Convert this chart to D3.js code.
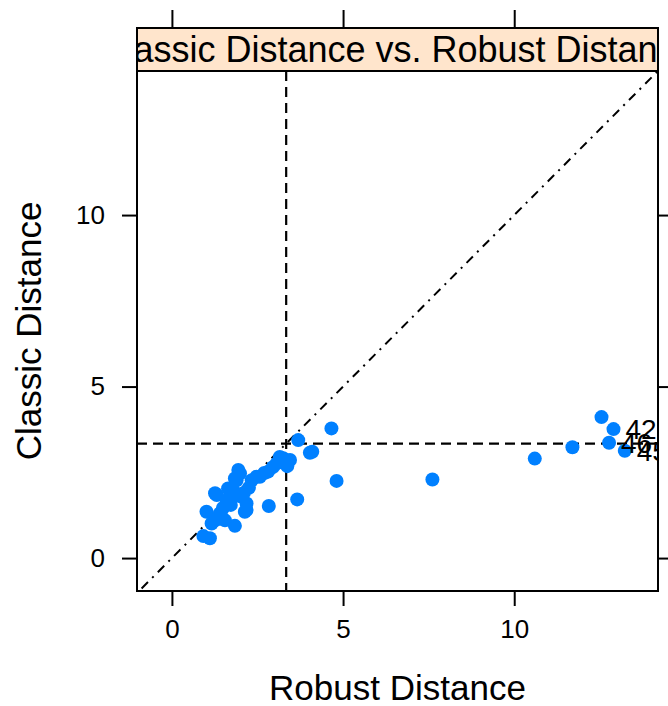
<!DOCTYPE html>
<html>
<head>
<meta charset="utf-8">
<script src="https://d3js.org/d3.v7.min.js"></script>
<style>
  body { margin: 0; background: #fff; }
  text { font-family: "Liberation Sans", Arial, sans-serif; fill: #000; }
</style>
</head>
<body>
<div class="chart"></div>
<script>
// datos
var robust = [0.92, 1.11, 1.16, 1.01, 1.26, 1.45, 1.49, 1.31, 1.60, 1.64,
  1.79, 1.84, 1.94, 1.99, 1.89, 1.84, 2.18, 2.13, 2.18, 1.72,
  2.00, 2.10, 2.33, 2.47, 2.57, 2.81, 2.70, 3.06, 3.15, 3.25,
  3.37, 3.45, 2.83, 3.66, 3.69, 4.03, 4.10, 4.66, 4.81, 7.61,
  10.60, 11.70, 12.55, 12.90, 12.77, 13.23, 1.40, 1.70, 2.25, 2.95,
  1.55, 1.26];
var classic = [0.64, 0.58, 1.01, 1.35, 1.10, 1.20, 1.46, 1.84, 1.69, 2.03,
  1.98, 2.32, 2.57, 2.47, 2.27, 0.94, 1.59, 1.35, 1.40, 1.55,
  1.80, 1.90, 2.27, 2.37, 2.37, 2.52, 2.48, 2.76, 2.95, 2.91,
  2.68, 2.86, 1.52, 1.71, 3.44, 3.07, 3.10, 3.78, 2.25, 2.29,
  2.90, 3.23, 4.11, 3.76, 3.36, 3.13, 1.30, 1.75, 2.05, 2.65,
  1.10, 1.89];
var labelIdx = [43, 44, 45];
var labelText = ["42", "46", "45"];
var ticks = [0, 5, 10];
var cutoff = 3.338;

var w = 668, h = 706;
var pLeft = 137, pRight = 658, pTop = 71, pBottom = 591, stripTop = 28;

var svg = d3.select(".chart")
  .append("svg")
  .attr("width", w)
  .attr("height", h)
  .style("background", "#FFFFFF");

var x = d3.scaleLinear().domain([-1.02, 14.2]).range([pLeft, pRight]);
var y = d3.scaleLinear().domain([-0.96, 14.2]).range([pBottom, pTop]);

svg.append("clipPath").attr("id", "panel")
  .append("rect")
  .attr("x", pLeft).attr("y", pTop)
  .attr("width", pRight - pLeft).attr("height", pBottom - pTop);

svg.append("clipPath").attr("id", "strip")
  .append("rect")
  .attr("x", pLeft).attr("y", stripTop)
  .attr("width", pRight - pLeft).attr("height", pTop - stripTop);

// ejes
function styleAxis(g) {
  g.select(".domain").remove();
  g.selectAll(".tick line").attr("stroke", "#000").attr("stroke-width", 2);
  g.selectAll(".tick text").style("font-size", "26px");
}

svg.append("g")
  .attr("transform", "translate(" + pLeft + ",0)")
  .call(d3.axisLeft(y).tickValues(ticks).tickSize(15).tickPadding(17))
  .call(styleAxis);

svg.append("g")
  .attr("transform", "translate(0," + pBottom + ")")
  .call(d3.axisBottom(x).tickValues(ticks).tickSize(15).tickPadding(14))
  .call(styleAxis);

svg.append("g")
  .attr("transform", "translate(0," + stripTop + ")")
  .call(d3.axisTop(x).tickValues(ticks).tickSize(18).tickFormat(""))
  .call(styleAxis);

svg.append("g")
  .attr("transform", "translate(" + pRight + ",0)")
  .call(d3.axisRight(y).tickValues(ticks).tickSize(15).tickFormat(""))
  .call(styleAxis);

// franja del titulo
svg.append("rect")
  .attr("x", pLeft).attr("y", stripTop)
  .attr("width", pRight - pLeft).attr("height", pTop - stripTop)
  .attr("fill", "#FFE5CC")
  .attr("stroke", "#000").attr("stroke-width", 2);

svg.append("text")
  .attr("clip-path", "url(#strip)")
  .attr("x", (pLeft + pRight) / 2)
  .attr("y", 62)
  .attr("text-anchor", "middle")
  .style("font-size", "36px")
  .text("Classic Distance vs. Robust Distance");

var p = svg.append("g").attr("clip-path", "url(#panel)");

// linea diagonal y lineas de corte
p.append("line")
  .attr("x1", x(-2)).attr("y1", y(-2))
  .attr("x2", x(15)).attr("y2", y(15))
  .attr("stroke", "#000").attr("stroke-width", 2)
  .attr("stroke-dasharray", "2,6,9,6");

p.append("line")
  .attr("x1", x(cutoff)).attr("x2", x(cutoff))
  .attr("y1", pTop).attr("y2", pBottom)
  .attr("stroke", "#000").attr("stroke-width", 2.2)
  .attr("stroke-dasharray", "10,6");

p.append("line")
  .attr("x1", pLeft).attr("x2", pRight)
  .attr("y1", y(cutoff)).attr("y2", y(cutoff))
  .attr("stroke", "#000").attr("stroke-width", 2.2)
  .attr("stroke-dasharray", "10,6");

p.selectAll("circle")
  .data(robust)
  .enter()
  .append("circle")
  .attr("cx", function(d) { return x(d); })
  .attr("cy", function(d, i) { return y(classic[i]); })
  .attr("r", 7)
  .attr("fill", "#0080FF");

p.selectAll("text.lab")
  .data(labelIdx)
  .enter()
  .append("text")
  .attr("class", "lab")
  .attr("x", function(d) { return x(robust[d]) + 12; })
  .attr("y", function(d) { return y(classic[d]) + 10; })
  .style("font-size", "28px")
  .text(function(d, i) { return labelText[i]; });

svg.append("rect")
  .attr("x", pLeft).attr("y", pTop)
  .attr("width", pRight - pLeft).attr("height", pBottom - pTop)
  .attr("fill", "none")
  .attr("stroke", "#000").attr("stroke-width", 2);

// titulos de ejes
svg.append("text")
  .attr("x", (pLeft + pRight) / 2)
  .attr("y", 700)
  .attr("text-anchor", "middle")
  .style("font-size", "35px")
  .text("Robust Distance");

svg.append("text")
  .attr("transform", "translate(41," + ((pTop + pBottom) / 2) + ") rotate(-90)")
  .attr("text-anchor", "middle")
  .style("font-size", "35px")
  .text("Classic Distance");
</script>
</body>
</html>
